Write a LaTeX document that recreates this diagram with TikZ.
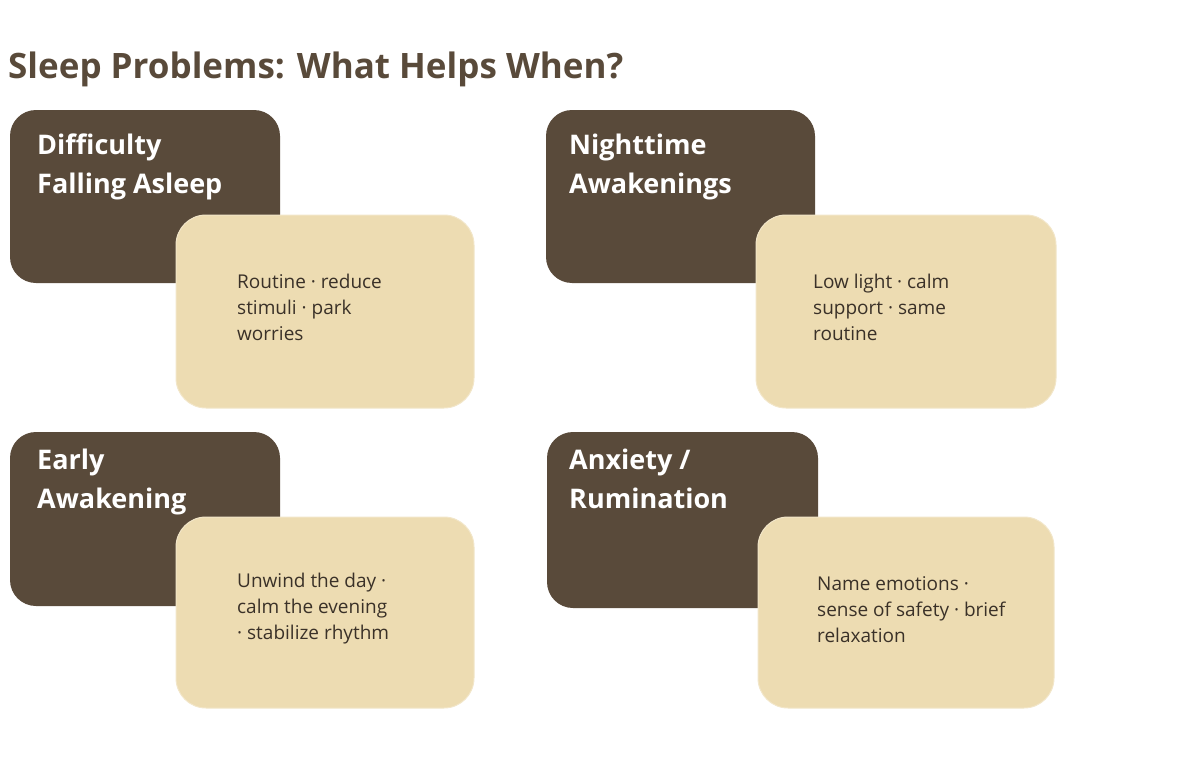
\documentclass[tikz,border=0pt]{standalone}
\usepackage{fontspec}
\setmainfont{Open Sans}
\definecolor{darkbrown}{HTML}{594A3A}
\definecolor{sand}{HTML}{EDDCB2}
\definecolor{inktext}{HTML}{3A3128}
\tikzset{
  problem/.style={fill=darkbrown,rounded corners=26pt},
  remedy/.style={fill=sand,draw=sand!70!white,line width=1pt,rounded corners=30pt},
  problemtext/.style={anchor=north west,inner sep=0pt,text=white,font=\fontsize{27}{39}\selectfont\bfseries,align=left},
  remedytext/.style={anchor=north west,inner sep=0pt,text=inktext,font=\fontsize{19}{26}\selectfont,align=left},
}
\begin{document}
\begin{tikzpicture}[x=1pt,y=-1pt]
\useasboundingbox (0,0) rectangle (1178,768);

% Title
\node (title) [anchor=base west,inner sep=0pt,text=darkbrown,font=\fontsize{35}{40}\selectfont\bfseries] at (8,78) {Sleep Problems: What Helps When?};

% Difficulty falling asleep
\fill [problem] (10,110) rectangle (280,283);
\node (dfa) [problemtext] at (37,134) {Difficulty\\Falling Asleep};
\filldraw [remedy] (176,215) rectangle (474,408);
\node (dfarem) [remedytext] at (237,274) {Routine · reduce\\stimuli · park\\worries};

% Nighttime awakenings
\fill [problem] (546,110) rectangle (815,283);
\node (nta) [problemtext] at (569,134) {Nighttime\\Awakenings};
\filldraw [remedy] (756,215) rectangle (1056,408);
\node (ntarem) [remedytext] at (813,274) {Low light · calm\\support · same\\routine};

% Early awakening
\fill [problem] (10,432) rectangle (280,606);
\node (ea) [problemtext] at (37,449) {Early\\Awakening};
\filldraw [remedy] (176,517) rectangle (474,708);
\node (earem) [remedytext] at (237,573) {Unwind the day ·\\calm the evening\\· stabilize rhythm};

% Anxiety / rumination
\fill [problem] (547,432) rectangle (818,608);
\node (anx) [problemtext] at (569,449) {Anxiety /\\Rumination};
\filldraw [remedy] (758,517) rectangle (1054,708);
\node (anxrem) [remedytext] at (817,576) {Name emotions ·\\sense of safety · brief\\relaxation};

\end{tikzpicture}
\end{document}
